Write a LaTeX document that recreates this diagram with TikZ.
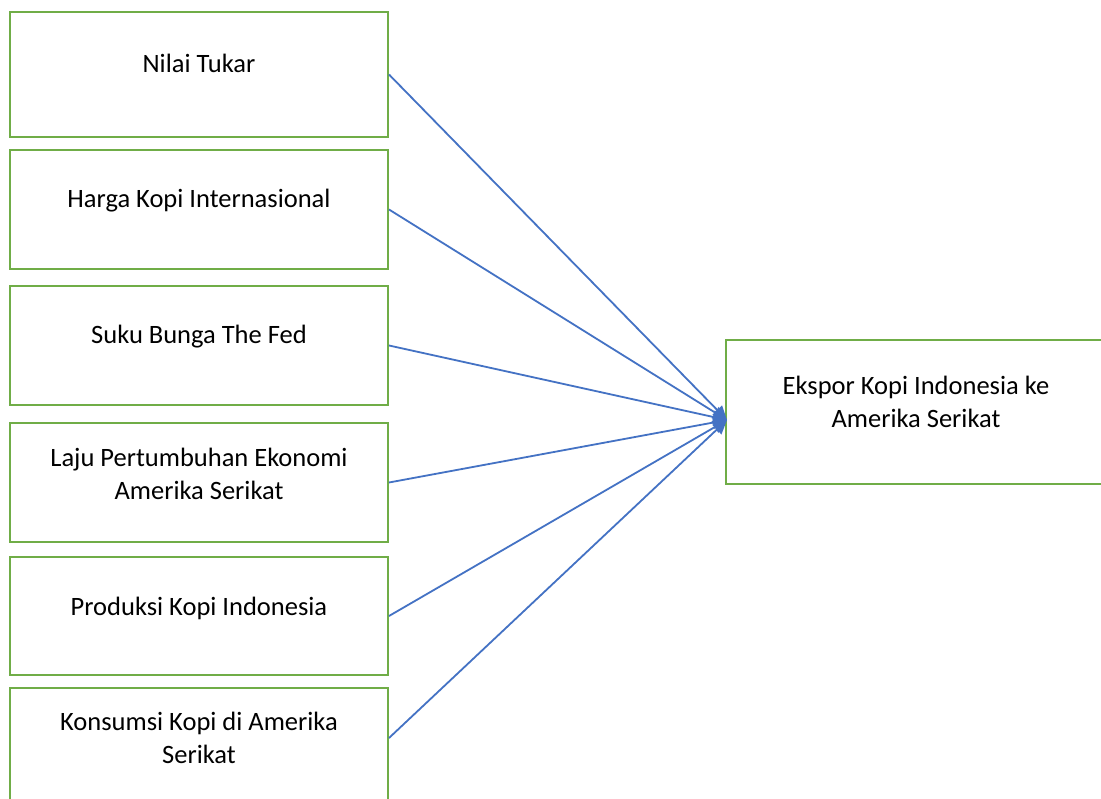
\documentclass[tikz,border=0pt]{standalone}
\usepackage{fontspec}
\setmainfont{Carlito}
\usetikzlibrary{arrows.meta}
\definecolor{boxgreen}{HTML}{70AD47}
\definecolor{lineblue}{HTML}{4472C4}
\tikzset{
  vbox/.style={draw=boxgreen, line width=2pt, fill=white, rectangle, inner sep=0pt},
  vtext/.style={align=center, font=\fontsize{26.5}{33}\selectfont, inner sep=0pt, anchor=base},
  conn/.style={draw=lineblue, line width=1.8pt, -{Triangle[length=14pt,width=13pt]}}
}
\begin{document}
\begin{tikzpicture}[x=1pt,y=-1pt]
\useasboundingbox (0,0) rectangle (1101,799);
\clip (0,0) rectangle (1101,799);
\fill[white] (0,0) rectangle (1101,799);
% left boxes
\node[vbox, minimum width=378pt, minimum height=125pt] (b1) at (199,74.5) {};
\node[vbox, minimum width=378pt, minimum height=119pt] (b2) at (199,209.5) {};
\node[vbox, minimum width=378pt, minimum height=119pt] (b3) at (199,345.5) {};
\node[vbox, minimum width=378pt, minimum height=119pt] (b4) at (199,482.5) {};
\node[vbox, minimum width=378pt, minimum height=118pt] (b5) at (199,616) {};
\node[vbox, minimum width=378pt, minimum height=130pt] (b6) at (199,753) {};
% right box
\node[vbox, minimum width=390pt, minimum height=144pt] (r) at (921,412) {};
% texts
\node[vtext] (t1) at (199,73) {Nilai Tukar};
\node[vtext] (t2) at (199,208) {Harga Kopi Internasional};
\node[vtext] (t3) at (199,344) {Suku Bunga The Fed};
\node[vtext, anchor=north] (t4) at (199,448) {Laju Pertumbuhan Ekonomi\\Amerika Serikat};
\node[vtext] (t5) at (199,615) {Produksi Kopi Indonesia};
\node[vtext, anchor=north] (t6) at (199,712) {Konsumsi Kopi di Amerika\\Serikat};
\node[vtext, anchor=north] (tr) at (916,376) {Ekspor Kopi Indonesia ke\\Amerika Serikat};
% target point
\coordinate (tgt) at (727,420);
\draw[conn] (b1.east) -- (tgt);
\draw[conn] (b2.east) -- (tgt);
\draw[conn] (b3.east) -- (tgt);
\draw[conn] (b4.east) -- (tgt);
\draw[conn] (b5.east) -- (tgt);
\draw[conn] ([yshift=15pt]b6.east) -- (tgt);
\end{tikzpicture}
\end{document}
